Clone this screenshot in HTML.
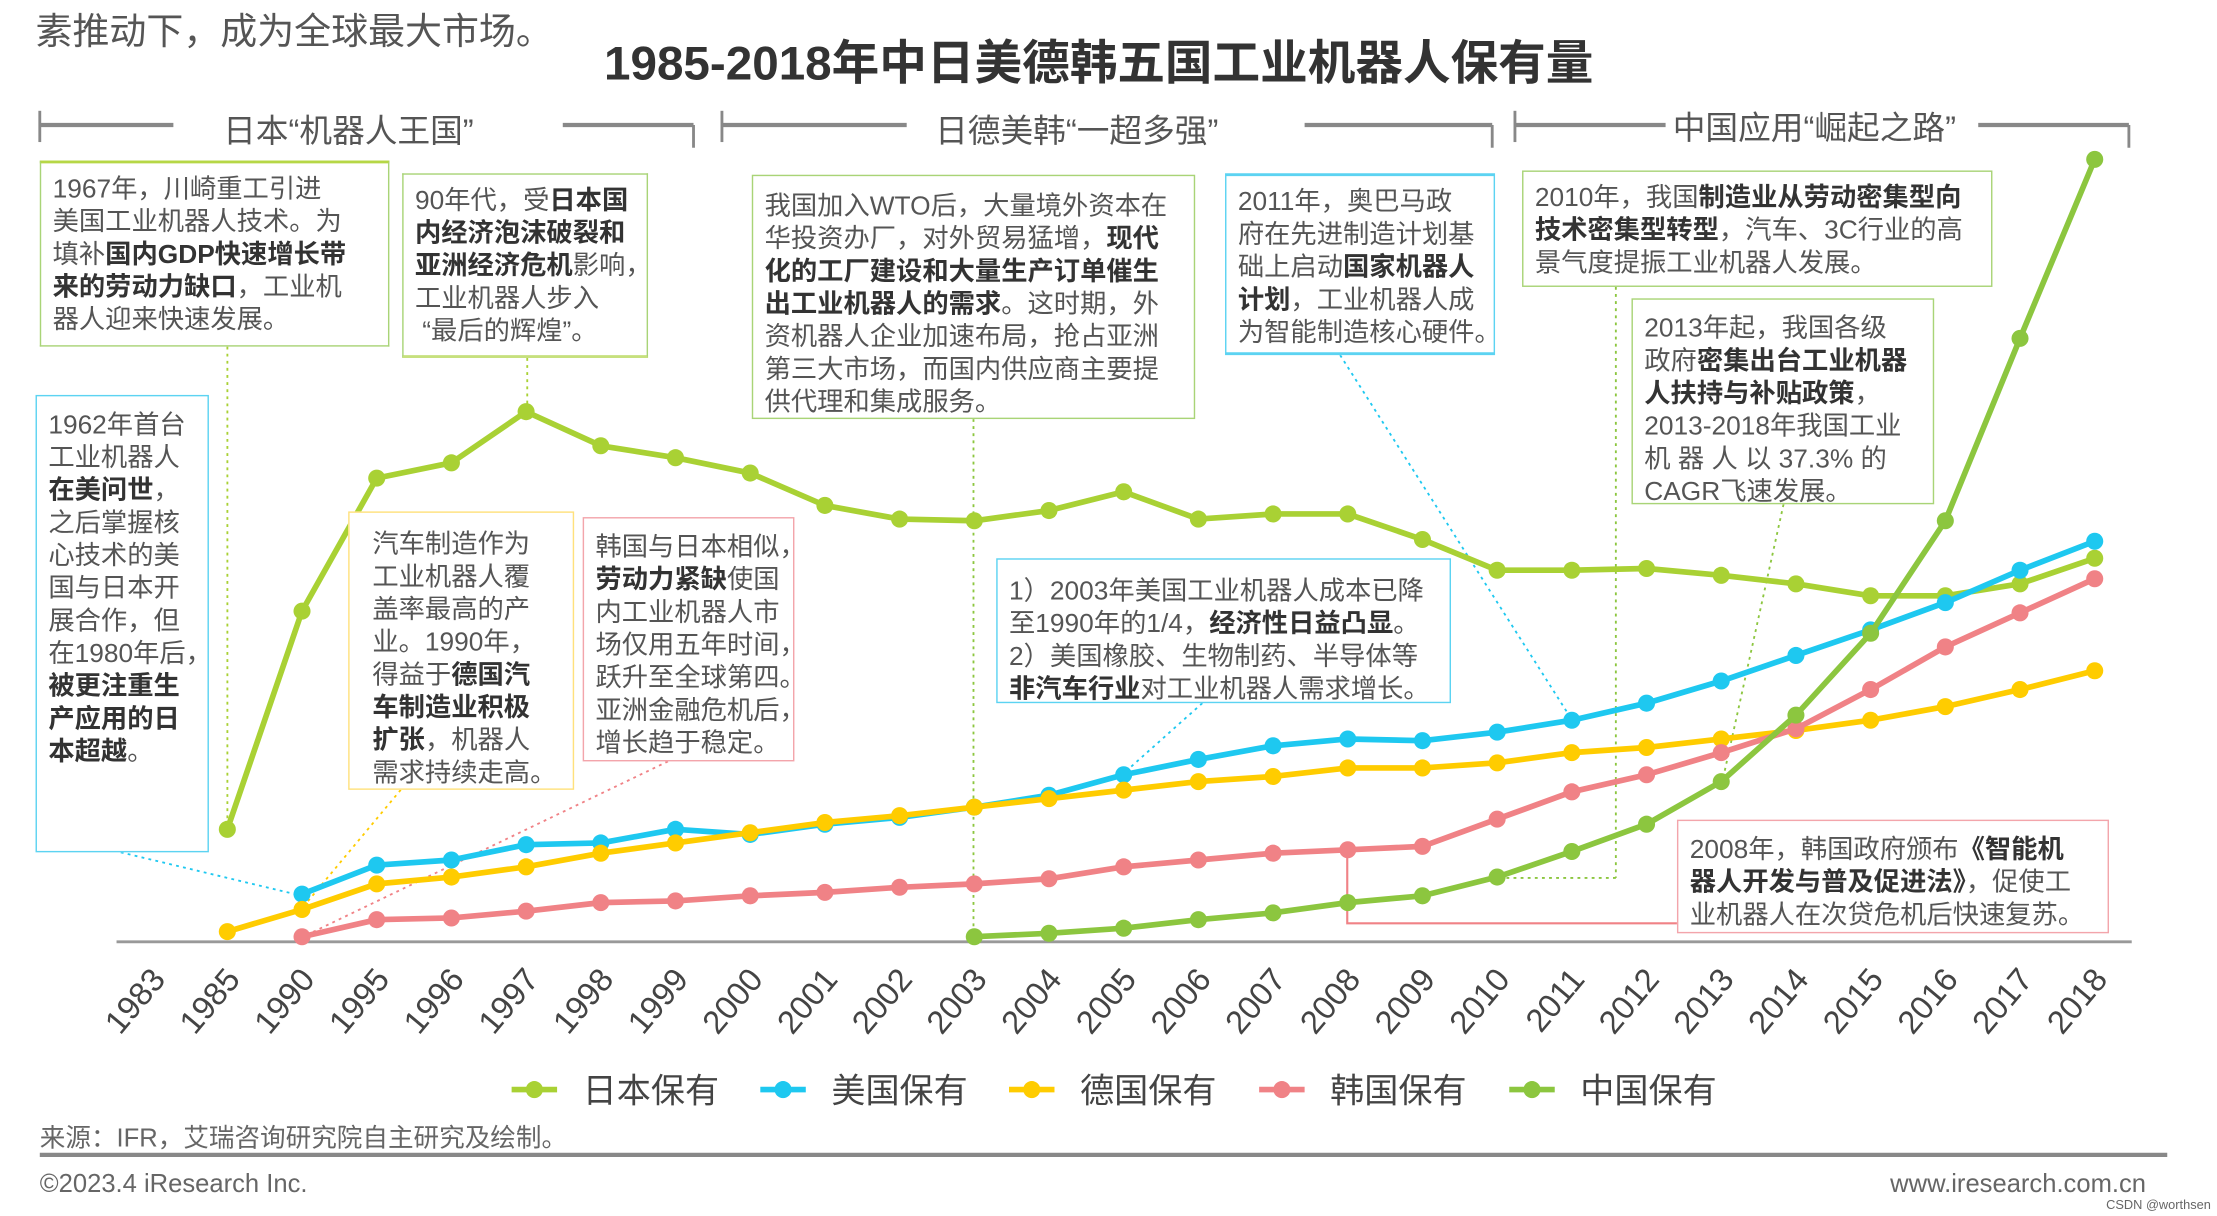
<!DOCTYPE html>
<html><head><meta charset="utf-8"><style>
html,body{margin:0;padding:0;background:#fff;}
body{width:2217px;height:1216px;overflow:hidden;font-family:"Liberation Sans","Noto Sans CJK SC",sans-serif;}
#stage{position:absolute;left:0;top:0;width:1560px;height:856px;transform-origin:0 0;transform:scale(1.42115,1.42056);color:#444;}
.box{position:absolute;background:#fff;font-size:18.5px;line-height:23px;color:#555;padding:6px 8px;box-sizing:border-box;white-space:nowrap;}
.box b{color:#333;}
.g{border:1.5px solid #a9d477;}
.c{border:1.5px solid #5cd3f2;}
.y{border:1.5px solid #ffe17c;}
.p{border:1.5px solid #f3a5ab;}
.abs{position:absolute;white-space:nowrap;}
</style></head><body>
<div id="stage">
<svg id="svg" width="1560" height="856" style="position:absolute;left:0;top:0"></svg>
<div class="abs" style="left:25px;top:2px;font-size:26px;color:#555">素推动下，成为全球最大市场。</div>
<div class="abs" style="left:425px;top:17px;font-size:33.5px;font-weight:bold;color:#333">1985-2018年中日美德韩五国工业机器人保有量</div>
<div class="abs" style="left:157px;top:73px;font-size:23px;color:#555">日本“机器人王国”</div>
<div class="abs" style="left:658px;top:73px;font-size:23px;color:#555">日德美韩“一超多强”</div>
<div class="abs" style="left:1177px;top:71px;font-size:23px;color:#555">中国应用“崛起之路”</div>

<div class="box g" style="left:28px;top:113px;width:246px;height:131px;border-top:2.5px solid #b6d746">1967年，川崎重工引进<br>美国工业机器人技术。为<br>填补<b>国内GDP快速增长带<br>来的劳动力缺口</b>，工业机<br>器人迎来快速发展。</div>
<div class="box g" style="left:283px;top:122px;width:173px;height:130px;border-bottom:2.5px solid #c6e07d">90年代，受<b>日本国<br>内经济泡沫破裂和<br>亚洲经济危机</b>影响，<br>工业机器人步入<br>&nbsp;“最后的辉煌”。</div>
<div class="box c" style="left:25px;top:278px;width:122px;height:322px;padding-top:8px">1962年首台<br>工业机器人<br><b>在美问世</b>，<br>之后掌握核<br>心技术的美<br>国与日本开<br>展合作，但<br>在1980年后，<br><b>被更注重生<br>产应用的日<br>本超越</b>。</div>
<div class="box y" style="left:245px;top:360px;width:159px;height:196px;padding-top:10px;padding-left:16px">汽车制造作为<br>工业机器人覆<br>盖率最高的产<br>业。1990年，<br>得益于<b>德国汽<br>车制造业积极<br>扩张</b>，机器人<br>需求持续走高。</div>
<div class="box p" style="left:410px;top:364px;width:149px;height:172px;padding-top:8px">韩国与日本相似，<br><b>劳动力紧缺</b>使国<br>内工业机器人市<br>场仅用五年时间，<br>跃升至全球第四。<br>亚洲金融危机后，<br>增长趋于稳定。</div>
<div class="box g" style="left:529px;top:123px;width:312px;height:172px;padding-top:9px">我国加入WTO后，大量境外资本在<br>华投资办厂，对外贸易猛增，<b>现代<br>化的工厂建设和大量生产订单催生<br>出工业机器人的需求</b>。这时期，外<br>资机器人企业加速布局，抢占亚洲<br>第三大市场，而国内供应商主要提<br>供代理和集成服务。</div>
<div class="box c" style="left:862px;top:122px;width:190px;height:128px;border-top:2.5px solid #5cd3f2;border-bottom:2.5px solid #5cd3f2">2011年，奥巴马政<br>府在先进制造计划基<br>础上启动<b>国家机器人<br>计划</b>，工业机器人成<br>为智能制造核心硬件。</div>
<div class="box g" style="left:1071px;top:120px;width:331px;height:82px">2010年，我国<b>制造业从劳动密集型向<br>技术密集型转型</b>，汽车、3C行业的高<br>景气度提振工业机器人发展。</div>
<div class="box g" style="left:1148px;top:210px;width:213px;height:145px;padding-top:8px">2013年起，我国各级<br>政府<b>密集出台工业机器<br>人扶持与补贴政策</b>，<br>2013-2018年我国工业<br>机 器 人 以 37.3% 的<br>CAGR飞速发展。</div>
<div class="box c" style="left:701px;top:393px;width:320px;height:102px;padding-top:10px">1）2003年美国工业机器人成本已降<br>至1990年的1/4，<b>经济性日益凸显</b>。<br>2）美国橡胶、生物制药、半导体等<br><b>非汽车行业</b>对工业机器人需求增长。</div>
<div class="box p" style="left:1180px;top:577px;width:304px;height:80px;padding-top:8px">2008年，韩国政府颁布<b>《智能机<br>器人开发与普及促进法》</b>，促使工<br>业机器人在次贷危机后快速复苏。</div>

<div class="abs" style="left:28px;top:787px;font-size:18px;color:#666">来源：IFR，艾瑞咨询研究院自主研究及绘制。</div>
<div class="abs" style="left:28px;top:823px;font-size:18px;color:#666">©2023.4 iResearch Inc.</div>
<div class="abs" style="left:1330px;top:823px;font-size:18px;color:#666">www.iresearch.com.cn</div>
<div class="abs" style="left:1482px;top:843px;font-size:9px;color:#666">CSDN @worthsen</div>
</div>
<script>
const categories=["1983","1985","1990","1995","1996","1997","1998","1999","2000","2001","2002","2003","2004","2005","2006","2007","2008","2009","2010","2011","2012","2013","2014","2015","2016","2017","2018"];
const seriesNames=["日本保有","美国保有","德国保有","韩国保有","中国保有"];
const japan=[null,66,194,272,281,311,291,284,275,256,248,247,253,264,248,251,251,236,218,218,219,215,210,203,203,210,225];
const usa=[null,null,28,45,48,57,58,66,63,69,73,79,86,98,107,115,119,118,123,130,140,153,168,183,199,218,235];
const germany=[null,6,19,34,38,44,52,58,64,70,74,79,84,89,94,97,102,102,105,111,114,119,124,130,138,148,159];
const korea=[null,null,3,13,14,18,23,24,27,29,32,34,37,44,48,52,54,56,72,88,98,111,125,148,173,193,213];
const china=[null,null,null,null,null,null,null,null,null,null,null,3,5,8,13,17,23,27,38,53,69,94,133,181,247,354,459];
const allSeries=[japan,usa,germany,korea,china];
const colors=["#a9d134","#1ec8f0","#ffcc00","#f08286","#8cc63f"];
const NS="http://www.w3.org/2000/svg";
const svg=document.getElementById('svg');
const x0=107.4,step=52.56,baseY=663,pxPerUnit=1.2;
function xPos(i){return x0+i*step;}
function yPos(v){return baseY-v*pxPerUnit;}
function mk(tag,attrs,parent){const e=document.createElementNS(NS,tag);for(const k in attrs)e.setAttribute(k,attrs[k]);(parent||svg).appendChild(e);return e;}
const gb=mk('g',{stroke:'#888','stroke-width':3,fill:'none'});


[[28,122,396,488],[508,638,918,1050],[1066,1172,1392,1498]].forEach(b=>{
 mk('line',{x1:b[0],y1:88,x2:b[1],y2:88},gb);mk('line',{x1:b[2],y1:88,x2:b[3],y2:88},gb);
 mk('line',{x1:b[0],y1:78,x2:b[0],y2:100,'stroke-width':2},gb);mk('line',{x1:b[3],y1:88,x2:b[3],y2:104,'stroke-width':2},gb);
});
const gl=mk('g',{fill:'none','stroke-width':1.3,'stroke-dasharray':'2,3'});


[[160,244,160,584,'#a9d134'],[371,252,371,290,'#a9d134'],[685,295,685,660,'#8cc63f'],[943,250,1105,505,'#1ec8f0'],[1137,202,1137,618,'#8cc63f'],[1137,618,1056,618,'#8cc63f'],[1255,355,1212,550,'#8cc63f'],[85,600,210,630,'#1ec8f0'],[282,556,212,640,'#ffcc00'],[470,536,212,660,'#f08286'],[846,495,790,545,'#1ec8f0']].forEach(l=>mk('line',{x1:l[0],y1:l[1],x2:l[2],y2:l[3],stroke:l[4]},gl));
mk('polyline',{points:'948,598 948,650 1180,650',stroke:'#f08286','stroke-width':1.5,fill:'none'});
const ax=mk('line',{x1:82,y1:baseY,x2:1500,y2:baseY,stroke:'#999','stroke-width':2});


categories.forEach((c,i)=>{
 const t=mk('text',{x:xPos(i)+10,y:690,'text-anchor':'end',transform:`rotate(-50 ${xPos(i)+10} 690)`,'font-size':23,fill:'#444','font-family':'Liberation Sans, sans-serif'});
 t.textContent=c;
 
 
});
allSeries.forEach((s,si)=>{
 const g=mk('g',{});
 
 
 const pts=[];s.forEach((v,i)=>{if(v!==null)pts.push([xPos(i),yPos(v)]);});
 mk('polyline',{points:pts.map(p=>p.join(',')).join(' '),fill:'none',stroke:colors[si],'stroke-width':4,'stroke-linejoin':'round'},g);
 pts.forEach(p=>{const c=mk('circle',{cx:p[0],cy:p[1],r:6,fill:colors[si]},g);
  
  });
});
const lx=[360,535,710,886,1062];
seriesNames.forEach((n,i)=>{
 const g=mk('g',{});
 
 
 mk('line',{x1:lx[i],y1:767,x2:lx[i]+32,y2:767,stroke:colors[i],'stroke-width':4},g);
 mk('circle',{cx:lx[i]+16,cy:767,r:6,fill:colors[i]},g);
 const t=mk('text',{x:lx[i]+50,y:776,'font-size':24,fill:'#444','font-family':'Liberation Sans, Noto Sans CJK SC, sans-serif'},g);t.textContent=n;
});
const fl=mk('line',{x1:28,y1:813,x2:1525,y2:813,stroke:'#888','stroke-width':3});


</script>
</body></html>
